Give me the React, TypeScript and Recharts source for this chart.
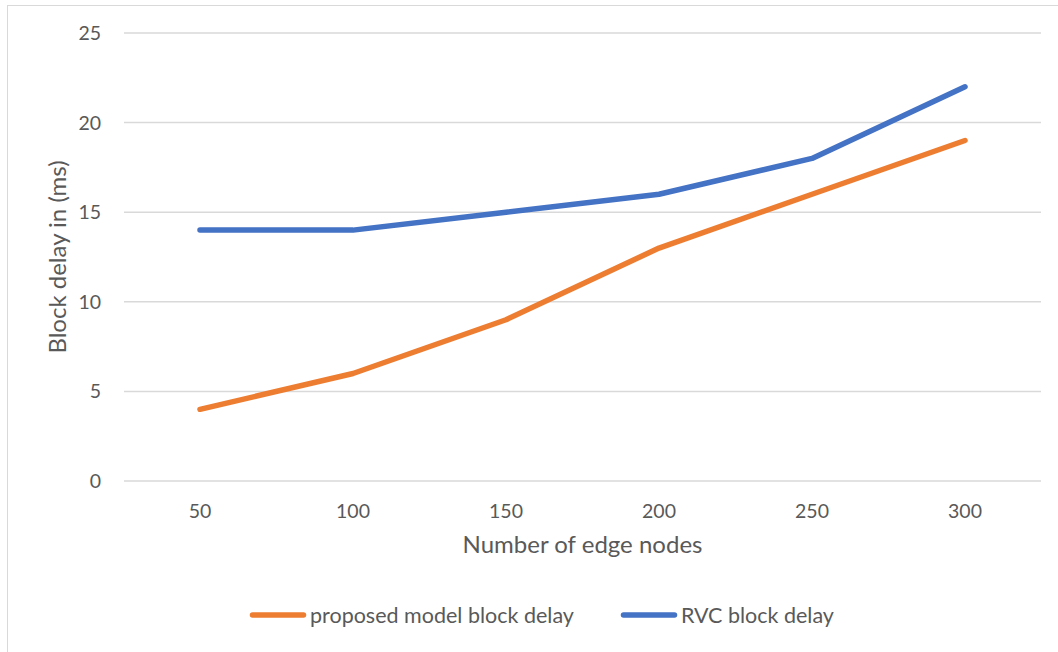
import { CartesianGrid, Label, Legend, Line, LineChart, XAxis, YAxis } from "recharts";

const edgeNodes = ["50", "100", "150", "200", "250", "300"];
const proposedDelay = [4, 6, 9, 13, 16, 19];
const rvcDelay = [14, 14, 15, 16, 18, 22];
const yTicks = [0, 5, 10, 15, 20, 25];

const series = [
  { key: "proposed", name: "proposed model block delay", color: "#ED7D31" },
  { key: "rvc", name: "RVC block delay", color: "#4472C4" },
];

const data = edgeNodes.map((n, i) => ({
  nodes: n,
  proposed: proposedDelay[i],
  rvc: rvcDelay[i],
}));

const FONT = "Lato, 'Open Sans', sans-serif";
const TEXT = "#595959";

function LegendContent() {
  return (
    <div style={{ display: "flex", alignItems: "center", paddingLeft: 249, fontFamily: FONT, fontSize: 21.5, color: TEXT }}>
      {series.map((s, i) => (
        <div key={s.key} style={{ display: "flex", alignItems: "center", marginRight: i === 0 ? 46 : 0 }}>
          <svg width={58} height={8} style={{ marginRight: 3 }}>
            <line x1={3.5} y1={4} x2={54.5} y2={4} stroke={s.color} strokeWidth={5.5} strokeLinecap="round" />
          </svg>
          <span>{s.name}</span>
        </div>
      ))}
    </div>
  );
}

export default function App() {
  return (
    <div style={{ position: "absolute", left: 0, top: 0, width: 1058, height: 652, background: "#fff", overflow: "hidden" }}>
      <div style={{ position: "absolute", left: 7, top: 5, width: 1100, height: 700, border: "1.5px solid #D9D9D9" }} />
      <LineChart width={1058} height={652} data={data} margin={{ top: 33, right: 17, bottom: 20, left: 0 }}>
        <CartesianGrid vertical={false} stroke="#D9D9D9" strokeWidth={1.5} />
        <XAxis
          dataKey="nodes"
          height={121}
          padding={{ left: 76, right: 76 }}
          axisLine={false}
          tickLine={false}
          tickSize={0}
          tickMargin={23}
          tick={{ fontSize: 19.5, fill: TEXT, fontFamily: FONT }}
        >
          <Label value="Number of edge nodes" position="insideTop" offset={55} fill={TEXT} fontSize={24} fontFamily={FONT} />
        </XAxis>
        <YAxis
          width={124}
          domain={[0, 25]}
          ticks={yTicks}
          axisLine={false}
          tickLine={false}
          tickSize={0}
          tickMargin={23}
          tick={{ fontSize: 19.5, fill: TEXT, fontFamily: FONT }}
        >
          <Label
            value="Block delay in (ms)"
            angle={-90}
            position="insideLeft"
            offset={57}
            fill={TEXT}
            fontSize={24}
            fontFamily={FONT}
            style={{ textAnchor: "middle" }}
          />
        </YAxis>
        <Legend verticalAlign="bottom" height={30} wrapperStyle={{ left: 0, width: 1058 }} content={LegendContent} />
        {series.map((s) => (
          <Line
            key={s.key}
            dataKey={s.key}
            name={s.name}
            stroke={s.color}
            strokeWidth={5.5}
            strokeLinecap="round"
            strokeLinejoin="round"
            dot={false}
            activeDot={false}
            type="linear"
            isAnimationActive={false}
          />
        ))}
      </LineChart>
    </div>
  );
}
